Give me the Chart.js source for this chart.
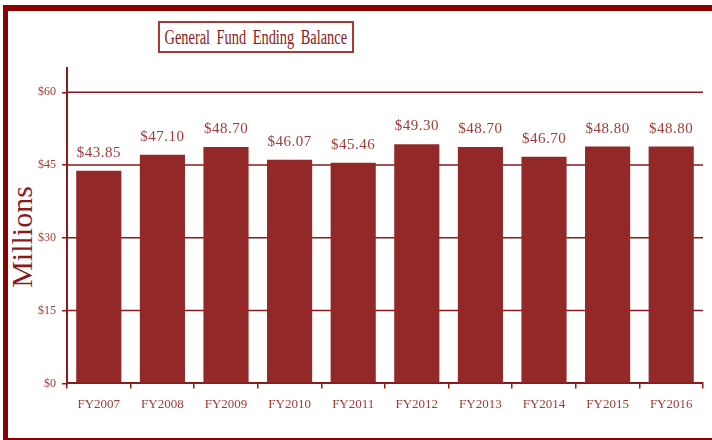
<!DOCTYPE html>
<html>
<head>
<meta charset="utf-8">
<script src="https://cdn.jsdelivr.net/npm/chart.js@4/dist/chart.umd.min.js"></script>
<style>
  html, body { margin: 0; padding: 0; background: #fff; overflow: hidden; }
  #wrap { position: relative; width: 712px; height: 440px; }
  #frame {
    position: absolute; left: 3px; top: 5px; width: 760px; height: 435px;
    box-sizing: border-box;
    border-top: 6px solid #8B0000; border-left: 5px solid #8B0000; border-bottom: 2px solid #8B0000;
  }
  #titleBox {
    position: absolute; left: 158px; top: 21px; width: 196px; height: 32px;
    box-sizing: border-box; border: 2px solid #A53A3A;
    display: flex; align-items: center; justify-content: center;
    font-family: "Liberation Serif", "DejaVu Serif", serif; color: #8B1A1A;
  }
  #titleBox span { display: inline-block; font-size: 20px; white-space: nowrap; transform: scaleX(0.72); word-spacing: 4px; }
  #yTitle {
    position: absolute; left: 22px; top: 237px; transform: translate(-50%, -50%) rotate(-90deg);
    font-family: "Liberation Serif", "DejaVu Serif", serif; font-size: 30px; color: #8B1A1A; white-space: nowrap;
  }
  canvas { position: absolute; left: 0; top: 0; }
</style>
</head>
<body>
<div id="wrap">
  <div id="frame"></div>
  <div id="titleBox"><span>General Fund Ending Balance</span></div>
  <div id="yTitle">Millions</div>
  <canvas id="fundChart" width="712" height="440"></canvas>
</div>
<script>
//-- ข้อมูลของกราฟ --
const fiscalYears = ['FY2007', 'FY2008', 'FY2009', 'FY2010', 'FY2011', 'FY2012', 'FY2013', 'FY2014', 'FY2015', 'FY2016'];
const endingBalance = [43.85, 47.10, 48.70, 46.07, 45.46, 49.30, 48.70, 46.70, 48.80, 48.80];
const yTickValues = [0, 15, 30, 45, 60];
const yAxisMax = 65;

const SERIF = '"Liberation Serif", "DejaVu Serif", serif';
const barColor = '#922828';
const lineColor = '#8B1A1A';
const textColor = '#A33A3A';

//-- Plugin วาดเส้น grid แนวนอนไว้ใต้แท่งกราฟ --
const gridUnderBars = {
    id: 'gridUnderBars',
    beforeDatasetsDraw(chart) {
        const { ctx, chartArea, scales } = chart;
        ctx.save();
        ctx.strokeStyle = lineColor;
        ctx.lineWidth = 1.5;
        yTickValues.forEach(v => {
            if (v === 0) return;
            const y = scales.y.getPixelForValue(v);
            ctx.beginPath();
            ctx.moveTo(chartArea.left, y);
            ctx.lineTo(chartArea.right, y);
            ctx.stroke();
        });
        ctx.restore();
    }
};

//-- Plugin วาดตัวเลขเหนือแท่งกราฟ --
const valueLabels = {
    id: 'valueLabels',
    afterDatasetsDraw(chart) {
        const ctx = chart.ctx;
        const meta = chart.getDatasetMeta(0);
        ctx.save();
        ctx.font = '15px ' + SERIF;
        ctx.fillStyle = textColor;
        ctx.textAlign = 'center';
        ctx.textBaseline = 'alphabetic';
        ctx.letterSpacing = '0.5px';
        meta.data.forEach((bar, i) => {
            ctx.fillText('$' + endingBalance[i].toFixed(2), bar.x, bar.y - 14);
        });
        ctx.restore();
    }
};

new Chart(document.getElementById('fundChart').getContext('2d'), {
    type: 'bar',
    data: {
        labels: fiscalYears,
        datasets: [{
            data: endingBalance,
            backgroundColor: barColor,
            borderWidth: 0,
            categoryPercentage: 1.0,
            barPercentage: 0.71
        }]
    },
    options: {
        responsive: false,
        animation: false,
        layout: { padding: { left: 0, right: 9, top: 68, bottom: 20 } },
        plugins: {
            legend: { display: false },
            title: { display: false },
            tooltip: { enabled: false }
        },
        scales: {
            x: {
                grid: { display: true, drawOnChartArea: false, drawTicks: true, tickLength: 5, color: lineColor, lineWidth: 1.5, offset: true },
                border: { display: true, color: lineColor, width: 2 },
                ticks: { color: textColor, font: { family: SERIF, size: 13 }, padding: 8, maxRotation: 0, autoSkip: false }
            },
            y: {
                min: 0,
                max: yAxisMax,
                afterBuildTicks: scale => {
                    scale.ticks = yTickValues.map(v => ({ value: v }));
                },
                afterFit: scale => { scale.width = 67; },
                grid: { color: lineColor, lineWidth: 1.5, drawOnChartArea: false, drawTicks: true, tickLength: 5 },
                border: { display: true, color: lineColor, width: 2 },
                ticks: {
                    color: textColor,
                    font: { family: SERIF, size: 12 },
                    padding: 6,
                    callback: v => '$' + v
                }
            }
        }
    },
    plugins: [gridUnderBars, valueLabels]
});
</script>
</body>
</html>
